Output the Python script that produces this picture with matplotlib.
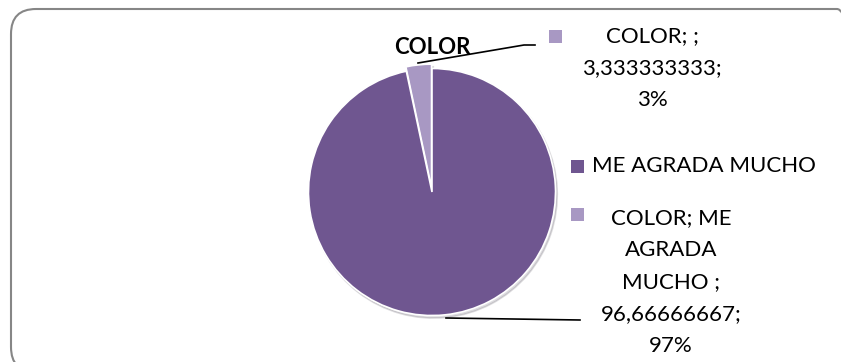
import matplotlib
matplotlib.use("Agg")
import matplotlib.pyplot as plt
from matplotlib.patches import FancyBboxPatch, Rectangle
from matplotlib.lines import Line2D

# ---- data ----
categories = ["COLOR", "ME AGRADA MUCHO"]
values = [3.333333333, 96.66666667]
percents = ["3%", "97%"]
colors = ["#A898C3", "#6F5690"]
legend_labels = ["COLOR; ;\n3,333333333;\n3%", "ME AGRADA MUCHO",
                 "COLOR; ME\nAGRADA\nMUCHO ;\n96,66666667;\n97%"]
legend_colors = ["#A898C3", "#6F5690", "#A898C3"]

W, H = 841, 362
fig = plt.figure(figsize=(W / 100, H / 100), dpi=100)
FONT = ["Lato", "DejaVu Sans"]

def fx(x):
    return x / W

def fy(y):
    return 1 - y / H

# rounded chart border (extends beyond right/bottom edge)
bl, bt, br, bb = 11, 9, 862, 372
border = FancyBboxPatch((bl / 100, (H - bb) / 100), (br - bl) / 100, (bb - bt) / 100,
                        boxstyle="round,pad=0,rounding_size=0.25",
                        transform=fig.dpi_scale_trans, fill=False,
                        edgecolor="#868686", linewidth=1.5)
fig.add_artist(border)

# pie
cx, cy, r = 432, 192, 126
ax = fig.add_axes([fx(cx - r), 1 - (cy + r) / H, 2 * r / W, 2 * r / H])
ax.pie(values, colors=colors, startangle=90, counterclock=True,
       explode=[0.035, 0], radius=1,
       wedgeprops=dict(edgecolor="white", linewidth=1.2),
       shadow=dict(ox=0.01, oy=-0.015, alpha=0.15))
ax.set_xlim(-1.02, 1.02)
ax.set_ylim(-1.02, 1.02)
ax.set_aspect("equal")
ax.axis("off")

# data label "COLOR" with leader line
fig.text(fx(432), fy(47), categories[0], ha="center", va="center",
         fontsize=16, fontweight="bold", family=FONT)
fig.add_artist(Line2D([fx(418), fx(524), fx(535)], [fy(63), fy(45), fy(45)],
                      color="black", linewidth=1.2))
# leader line for big slice
fig.add_artist(Line2D([fx(446), fx(580)], [fy(318), fy(320)],
                      color="black", linewidth=1.2))

# legend-like entries
sq = 13
marker_pos = [(555, 36), (577, 166), (577, 214)]
for (mx, my), c in zip(marker_pos, legend_colors):
    fig.add_artist(Rectangle((fx(mx - sq / 2), fy(my + sq / 2)), sq / W, sq / H,
                             transform=fig.transFigure, facecolor=c,
                             edgecolor="none"))

LS = 1.76
fig.text(fx(652), fy(68), legend_labels[0], ha="center", va="center",
         fontsize=16, family=FONT, linespacing=LS)
fig.text(fx(592), fy(166), legend_labels[1], ha="left", va="center",
         fontsize=16, family=FONT)
fig.text(fx(671), fy(282), legend_labels[2], ha="center", va="center",
         fontsize=16, family=FONT, linespacing=LS)

fig.savefig("out.png", dpi=100)
